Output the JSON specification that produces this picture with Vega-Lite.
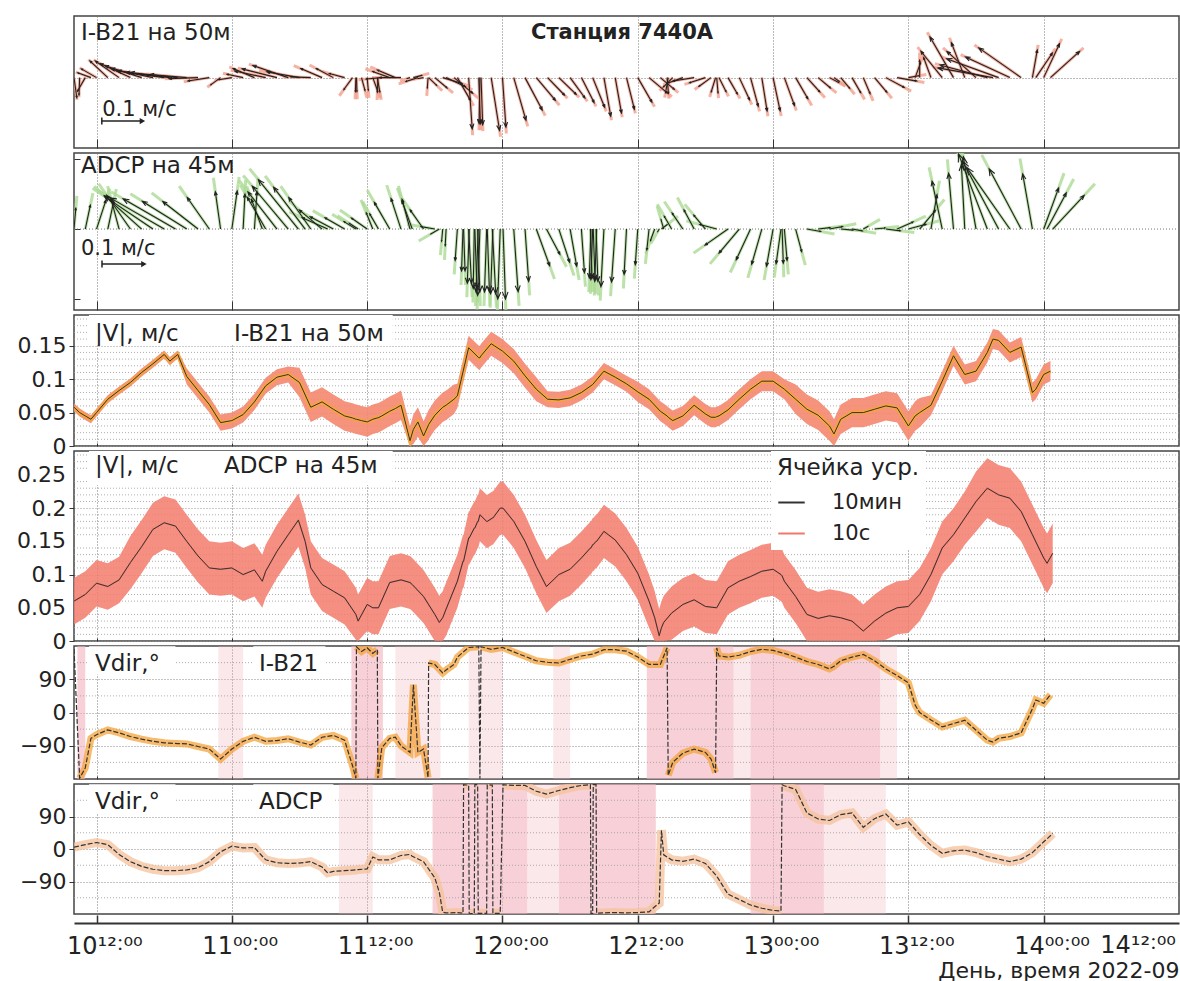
{
"$schema":"https://vega.github.io/schema/vega-lite/v6.json",
"padding":{"left":13,"right":2,"top":15,"bottom":0},
"spacing":5,
"bounds":"flush",
"background":"white",
"config":{"font":"DejaVu Sans","view":{"stroke":"#444","strokeWidth":1.5},"axis":{"labelFont":"DejaVu Sans","titleFont":"DejaVu Sans","labelColor":"#222","titleColor":"#222"}},
"datasets":{
"ib":[
{"t":"2022-09-10T10:00:00Z","s":0.058,"lo":0.052,"hi":0.064,"d":172,"g":0},
{"t":"2022-09-10T10:30:00Z","s":0.050,"lo":0.044,"hi":0.056,"d":-178,"g":1},
{"t":"2022-09-10T11:00:00Z","s":0.045,"lo":0.039,"hi":0.051,"d":-150,"g":1},
{"t":"2022-09-10T11:30:00Z","s":0.040,"lo":0.034,"hi":0.046,"d":-70,"g":1},
{"t":"2022-09-10T12:00:00Z","s":0.050,"lo":0.044,"hi":0.056,"d":-60,"g":1},
{"t":"2022-09-10T13:00:00Z","s":0.070,"lo":0.064,"hi":0.076,"d":-47,"g":1},
{"t":"2022-09-10T14:00:00Z","s":0.083,"lo":0.077,"hi":0.089,"d":-55,"g":1},
{"t":"2022-09-10T15:00:00Z","s":0.095,"lo":0.089,"hi":0.101,"d":-65,"g":1},
{"t":"2022-09-10T16:00:00Z","s":0.110,"lo":0.104,"hi":0.116,"d":-72,"g":1},
{"t":"2022-09-10T17:00:00Z","s":0.123,"lo":0.117,"hi":0.129,"d":-78,"g":1},
{"t":"2022-09-10T18:00:00Z","s":0.137,"lo":0.131,"hi":0.143,"d":-82,"g":1},
{"t":"2022-09-10T18:30:00Z","s":0.127,"lo":0.121,"hi":0.133,"d":-83,"g":1},
{"t":"2022-09-10T19:12:00Z","s":0.137,"lo":0.131,"hi":0.143,"d":-84,"g":1},
{"t":"2022-09-10T20:00:00Z","s":0.104,"lo":0.092,"hi":0.116,"d":-85,"g":1},
{"t":"2022-09-10T21:00:00Z","s":0.083,"lo":0.071,"hi":0.095,"d":-92,"g":1},
{"t":"2022-09-10T22:00:00Z","s":0.062,"lo":0.050,"hi":0.074,"d":-99,"g":1},
{"t":"2022-09-10T23:00:00Z","s":0.035,"lo":0.023,"hi":0.047,"d":-126,"g":1},
{"t":"2022-09-11T00:00:00Z","s":0.038,"lo":0.026,"hi":0.050,"d":-99,"g":1},
{"t":"2022-09-11T01:00:00Z","s":0.047,"lo":0.035,"hi":0.059,"d":-78,"g":1},
{"t":"2022-09-11T02:00:00Z","s":0.066,"lo":0.054,"hi":0.078,"d":-67,"g":1},
{"t":"2022-09-11T03:00:00Z","s":0.090,"lo":0.078,"hi":0.102,"d":-78,"g":1},
{"t":"2022-09-11T04:00:00Z","s":0.103,"lo":0.091,"hi":0.115,"d":-76,"g":1},
{"t":"2022-09-11T05:00:00Z","s":0.107,"lo":0.095,"hi":0.119,"d":-71,"g":1},
{"t":"2022-09-11T06:00:00Z","s":0.095,"lo":0.073,"hi":0.117,"d":-80,"g":1},
{"t":"2022-09-11T07:00:00Z","s":0.058,"lo":0.036,"hi":0.080,"d":-88,"g":1},
{"t":"2022-09-11T08:00:00Z","s":0.066,"lo":0.044,"hi":0.088,"d":-67,"g":1},
{"t":"2022-09-11T09:00:00Z","s":0.055,"lo":0.033,"hi":0.077,"d":-62,"g":1},
{"t":"2022-09-11T10:00:00Z","s":0.045,"lo":0.023,"hi":0.067,"d":-75,"g":1},
{"t":"2022-09-11T10:42:00Z","s":0.042,"lo":0.020,"hi":0.064,"d":-144,"g":1},
{"t":"2022-09-11T11:00:00Z","s":0.040,"lo":0.018,"hi":0.062,"d":-178,"g":1},
{"t":"2022-09-11T11:03:00Z","s":0.040,"lo":0.018,"hi":0.062,"d":178,"g":2},
{"t":"2022-09-11T11:30:00Z","s":0.038,"lo":0.016,"hi":0.060,"d":165,"g":2},
{"t":"2022-09-11T12:00:00Z","s":0.036,"lo":0.014,"hi":0.058,"d":175,"g":2},
{"t":"2022-09-11T12:30:00Z","s":0.040,"lo":0.018,"hi":0.062,"d":160,"g":2},
{"t":"2022-09-11T12:54:00Z","s":0.042,"lo":0.020,"hi":0.064,"d":170,"g":2},
{"t":"2022-09-11T12:57:00Z","s":0.042,"lo":0.020,"hi":0.064,"d":-178,"g":3},
{"t":"2022-09-11T13:18:00Z","s":0.045,"lo":0.023,"hi":0.067,"d":-95,"g":3},
{"t":"2022-09-11T14:00:00Z","s":0.052,"lo":0.030,"hi":0.074,"d":-70,"g":3},
{"t":"2022-09-11T14:30:00Z","s":0.056,"lo":0.034,"hi":0.078,"d":-67,"g":3},
{"t":"2022-09-11T15:00:00Z","s":0.061,"lo":0.039,"hi":0.083,"d":-90,"g":3},
{"t":"2022-09-11T15:48:00Z","s":0.008,"lo":0.000,"hi":0.030,"d":-108,"g":3},
{"t":"2022-09-11T16:06:00Z","s":0.025,"lo":0.003,"hi":0.047,"d":75,"g":3},
{"t":"2022-09-11T16:30:00Z","s":0.036,"lo":0.014,"hi":0.058,"d":-108,"g":3},
{"t":"2022-09-11T17:00:00Z","s":0.015,"lo":0.000,"hi":0.037,"d":-99,"g":3},
{"t":"2022-09-11T17:24:00Z","s":0.030,"lo":0.008,"hi":0.052,"d":-176,"g":3},
{"t":"2022-09-11T17:27:00Z","s":0.032,"lo":0.010,"hi":0.054,"d":134,"g":4},
{"t":"2022-09-11T18:00:00Z","s":0.046,"lo":0.024,"hi":0.068,"d":130,"g":4},
{"t":"2022-09-11T18:42:00Z","s":0.058,"lo":0.036,"hi":0.080,"d":107,"g":4},
{"t":"2022-09-11T19:00:00Z","s":0.061,"lo":0.039,"hi":0.083,"d":115,"g":4},
{"t":"2022-09-11T19:42:00Z","s":0.070,"lo":0.048,"hi":0.092,"d":130,"g":4},
{"t":"2022-09-11T20:00:00Z","s":0.075,"lo":0.057,"hi":0.093,"d":150,"g":4},
{"t":"2022-09-11T21:00:00Z","s":0.147,"lo":0.129,"hi":0.165,"d":176,"g":4},
{"t":"2022-09-11T21:54:00Z","s":0.132,"lo":0.114,"hi":0.150,"d":178,"g":4},
{"t":"2022-09-11T22:00:00Z","s":0.132,"lo":0.114,"hi":0.150,"d":-179,"g":5},
{"t":"2022-09-11T22:06:00Z","s":0.135,"lo":0.117,"hi":0.153,"d":178,"g":6},
{"t":"2022-09-11T23:00:00Z","s":0.153,"lo":0.135,"hi":0.171,"d":171,"g":6},
{"t":"2022-09-12T00:00:00Z","s":0.142,"lo":0.124,"hi":0.160,"d":176,"g":6},
{"t":"2022-09-12T01:00:00Z","s":0.127,"lo":0.109,"hi":0.145,"d":164,"g":6},
{"t":"2022-09-12T02:00:00Z","s":0.105,"lo":0.087,"hi":0.123,"d":152,"g":6},
{"t":"2022-09-12T03:00:00Z","s":0.085,"lo":0.067,"hi":0.103,"d":140,"g":6},
{"t":"2022-09-12T04:00:00Z","s":0.070,"lo":0.058,"hi":0.082,"d":136,"g":6},
{"t":"2022-09-12T05:00:00Z","s":0.069,"lo":0.057,"hi":0.081,"d":134,"g":6},
{"t":"2022-09-12T06:00:00Z","s":0.072,"lo":0.060,"hi":0.084,"d":144,"g":6},
{"t":"2022-09-12T07:00:00Z","s":0.080,"lo":0.068,"hi":0.092,"d":153,"g":6},
{"t":"2022-09-12T08:00:00Z","s":0.092,"lo":0.080,"hi":0.104,"d":158,"g":6},
{"t":"2022-09-12T09:00:00Z","s":0.112,"lo":0.100,"hi":0.124,"d":170,"g":6},
{"t":"2022-09-12T10:00:00Z","s":0.103,"lo":0.091,"hi":0.115,"d":170,"g":6},
{"t":"2022-09-12T11:00:00Z","s":0.093,"lo":0.081,"hi":0.105,"d":166,"g":6},
{"t":"2022-09-12T12:00:00Z","s":0.081,"lo":0.066,"hi":0.096,"d":150,"g":6},
{"t":"2022-09-12T13:00:00Z","s":0.070,"lo":0.055,"hi":0.085,"d":130,"g":6},
{"t":"2022-09-12T14:00:00Z","s":0.052,"lo":0.037,"hi":0.067,"d":130,"g":6},
{"t":"2022-09-12T14:36:00Z","s":0.045,"lo":0.030,"hi":0.060,"d":175,"g":6},
{"t":"2022-09-12T14:42:00Z","s":0.043,"lo":0.028,"hi":0.058,"d":-170,"g":7},
{"t":"2022-09-12T15:06:00Z","s":0.038,"lo":0.023,"hi":0.053,"d":-135,"g":7},
{"t":"2022-09-12T16:00:00Z","s":0.045,"lo":0.030,"hi":0.060,"d":-110,"g":7},
{"t":"2022-09-12T17:00:00Z","s":0.061,"lo":0.046,"hi":0.076,"d":-99,"g":7},
{"t":"2022-09-12T18:00:00Z","s":0.048,"lo":0.033,"hi":0.063,"d":-108,"g":7},
{"t":"2022-09-12T18:30:00Z","s":0.043,"lo":0.028,"hi":0.058,"d":-126,"g":7},
{"t":"2022-09-12T18:54:00Z","s":0.043,"lo":0.028,"hi":0.058,"d":-163,"g":7},
{"t":"2022-09-12T19:00:00Z","s":0.044,"lo":0.029,"hi":0.059,"d":175,"g":8},
{"t":"2022-09-12T19:12:00Z","s":0.045,"lo":0.030,"hi":0.060,"d":153,"g":8},
{"t":"2022-09-12T20:00:00Z","s":0.054,"lo":0.039,"hi":0.069,"d":150,"g":8},
{"t":"2022-09-12T21:00:00Z","s":0.070,"lo":0.055,"hi":0.085,"d":155,"g":8},
{"t":"2022-09-12T22:00:00Z","s":0.085,"lo":0.070,"hi":0.100,"d":165,"g":8},
{"t":"2022-09-12T23:00:00Z","s":0.097,"lo":0.082,"hi":0.112,"d":171,"g":8},
{"t":"2022-09-13T00:00:00Z","s":0.097,"lo":0.082,"hi":0.112,"d":168,"g":8},
{"t":"2022-09-13T01:00:00Z","s":0.085,"lo":0.070,"hi":0.100,"d":160,"g":8},
{"t":"2022-09-13T02:00:00Z","s":0.070,"lo":0.048,"hi":0.092,"d":150,"g":8},
{"t":"2022-09-13T03:00:00Z","s":0.055,"lo":0.033,"hi":0.077,"d":138,"g":8},
{"t":"2022-09-13T04:00:00Z","s":0.046,"lo":0.024,"hi":0.068,"d":130,"g":8},
{"t":"2022-09-13T05:00:00Z","s":0.030,"lo":0.008,"hi":0.052,"d":118,"g":8},
{"t":"2022-09-13T05:24:00Z","s":0.018,"lo":0.000,"hi":0.040,"d":125,"g":8},
{"t":"2022-09-13T06:00:00Z","s":0.040,"lo":0.018,"hi":0.062,"d":140,"g":8},
{"t":"2022-09-13T07:00:00Z","s":0.050,"lo":0.028,"hi":0.072,"d":150,"g":8},
{"t":"2022-09-13T08:00:00Z","s":0.050,"lo":0.028,"hi":0.072,"d":157,"g":8},
{"t":"2022-09-13T09:00:00Z","s":0.055,"lo":0.033,"hi":0.077,"d":140,"g":8},
{"t":"2022-09-13T10:00:00Z","s":0.060,"lo":0.038,"hi":0.082,"d":118,"g":8},
{"t":"2022-09-13T11:00:00Z","s":0.057,"lo":0.035,"hi":0.079,"d":100,"g":8},
{"t":"2022-09-13T12:00:00Z","s":0.030,"lo":0.008,"hi":0.052,"d":80,"g":8},
{"t":"2022-09-13T12:36:00Z","s":0.045,"lo":0.023,"hi":0.067,"d":20,"g":8},
{"t":"2022-09-13T13:00:00Z","s":0.050,"lo":0.028,"hi":0.072,"d":0,"g":8},
{"t":"2022-09-13T14:00:00Z","s":0.061,"lo":0.046,"hi":0.076,"d":-20,"g":8},
{"t":"2022-09-13T15:00:00Z","s":0.097,"lo":0.082,"hi":0.112,"d":-39,"g":8},
{"t":"2022-09-13T16:00:00Z","s":0.135,"lo":0.120,"hi":0.150,"d":-30,"g":8},
{"t":"2022-09-13T17:00:00Z","s":0.107,"lo":0.092,"hi":0.122,"d":-21,"g":8},
{"t":"2022-09-13T18:00:00Z","s":0.112,"lo":0.097,"hi":0.127,"d":-48,"g":8},
{"t":"2022-09-13T19:00:00Z","s":0.140,"lo":0.125,"hi":0.155,"d":-75,"g":8},
{"t":"2022-09-13T19:30:00Z","s":0.160,"lo":0.145,"hi":0.175,"d":-80,"g":8},
{"t":"2022-09-13T20:00:00Z","s":0.158,"lo":0.143,"hi":0.173,"d":-70,"g":8},
{"t":"2022-09-13T21:00:00Z","s":0.140,"lo":0.125,"hi":0.155,"d":-65,"g":8},
{"t":"2022-09-13T22:00:00Z","s":0.148,"lo":0.133,"hi":0.163,"d":-55,"g":8},
{"t":"2022-09-13T23:00:00Z","s":0.080,"lo":0.065,"hi":0.095,"d":10,"g":8},
{"t":"2022-09-13T23:18:00Z","s":0.085,"lo":0.070,"hi":0.100,"d":34,"g":8},
{"t":"2022-09-14T00:00:00Z","s":0.107,"lo":0.092,"hi":0.122,"d":25,"g":8},
{"t":"2022-09-14T00:36:00Z","s":0.112,"lo":0.097,"hi":0.127,"d":48,"g":8}
],
"ad":[
{"t":"2022-09-10T10:00:00Z","s":0.060,"lo":0.025,"hi":0.095,"d":5,"g":0},
{"t":"2022-09-10T11:00:00Z","s":0.070,"lo":0.035,"hi":0.105,"d":12,"g":0},
{"t":"2022-09-10T12:00:00Z","s":0.087,"lo":0.052,"hi":0.122,"d":18,"g":0},
{"t":"2022-09-10T13:00:00Z","s":0.082,"lo":0.047,"hi":0.117,"d":12,"g":0},
{"t":"2022-09-10T14:00:00Z","s":0.092,"lo":0.057,"hi":0.127,"d":-15,"g":0},
{"t":"2022-09-10T15:00:00Z","s":0.118,"lo":0.078,"hi":0.158,"d":-35,"g":0},
{"t":"2022-09-10T16:00:00Z","s":0.142,"lo":0.102,"hi":0.182,"d":-48,"g":0},
{"t":"2022-09-10T17:00:00Z","s":0.168,"lo":0.128,"hi":0.208,"d":-56,"g":0},
{"t":"2022-09-10T18:00:00Z","s":0.178,"lo":0.138,"hi":0.218,"d":-60,"g":0},
{"t":"2022-09-10T19:00:00Z","s":0.173,"lo":0.133,"hi":0.213,"d":-60,"g":0},
{"t":"2022-09-10T20:00:00Z","s":0.150,"lo":0.110,"hi":0.190,"d":-58,"g":0},
{"t":"2022-09-10T21:00:00Z","s":0.128,"lo":0.088,"hi":0.168,"d":-52,"g":0},
{"t":"2022-09-10T22:00:00Z","s":0.110,"lo":0.070,"hi":0.150,"d":-35,"g":0},
{"t":"2022-09-10T23:00:00Z","s":0.108,"lo":0.068,"hi":0.148,"d":-8,"g":0},
{"t":"2022-09-11T00:00:00Z","s":0.110,"lo":0.070,"hi":0.150,"d":8,"g":0},
{"t":"2022-09-11T01:00:00Z","s":0.100,"lo":0.060,"hi":0.140,"d":3,"g":0},
{"t":"2022-09-11T02:00:00Z","s":0.107,"lo":0.067,"hi":0.147,"d":4,"g":0},
{"t":"2022-09-11T02:42:00Z","s":0.090,"lo":0.050,"hi":0.130,"d":-20,"g":0},
{"t":"2022-09-11T03:00:00Z","s":0.105,"lo":0.065,"hi":0.145,"d":-30,"g":0},
{"t":"2022-09-11T04:00:00Z","s":0.135,"lo":0.095,"hi":0.175,"d":-38,"g":0},
{"t":"2022-09-11T05:00:00Z","s":0.160,"lo":0.120,"hi":0.200,"d":-40,"g":0},
{"t":"2022-09-11T05:54:00Z","s":0.182,"lo":0.142,"hi":0.222,"d":-39,"g":0},
{"t":"2022-09-11T06:30:00Z","s":0.150,"lo":0.110,"hi":0.190,"d":-37,"g":0},
{"t":"2022-09-11T07:00:00Z","s":0.110,"lo":0.070,"hi":0.150,"d":-35,"g":0},
{"t":"2022-09-11T08:00:00Z","s":0.085,"lo":0.045,"hi":0.125,"d":-50,"g":0},
{"t":"2022-09-11T08:30:00Z","s":0.080,"lo":0.040,"hi":0.120,"d":-66,"g":0},
{"t":"2022-09-11T09:00:00Z","s":0.075,"lo":0.035,"hi":0.115,"d":-62,"g":0},
{"t":"2022-09-11T10:00:00Z","s":0.065,"lo":0.025,"hi":0.105,"d":-60,"g":0},
{"t":"2022-09-11T11:00:00Z","s":0.040,"lo":0.002,"hi":0.080,"d":-58,"g":0},
{"t":"2022-09-11T11:12:00Z","s":0.030,"lo":0.000,"hi":0.070,"d":-57,"g":0},
{"t":"2022-09-11T12:00:00Z","s":0.055,"lo":0.015,"hi":0.095,"d":-55,"g":0},
{"t":"2022-09-11T12:30:00Z","s":0.050,"lo":0.010,"hi":0.090,"d":-22,"g":0},
{"t":"2022-09-11T13:00:00Z","s":0.050,"lo":0.010,"hi":0.090,"d":-30,"g":0},
{"t":"2022-09-11T14:00:00Z","s":0.088,"lo":0.048,"hi":0.128,"d":-30,"g":0},
{"t":"2022-09-11T15:00:00Z","s":0.092,"lo":0.052,"hi":0.132,"d":-18,"g":0},
{"t":"2022-09-11T15:48:00Z","s":0.088,"lo":0.048,"hi":0.128,"d":-15,"g":0},
{"t":"2022-09-11T16:00:00Z","s":0.085,"lo":0.045,"hi":0.125,"d":-20,"g":0},
{"t":"2022-09-11T17:00:00Z","s":0.067,"lo":0.027,"hi":0.107,"d":-35,"g":0},
{"t":"2022-09-11T18:00:00Z","s":0.040,"lo":0.000,"hi":0.080,"d":-80,"g":0},
{"t":"2022-09-11T18:24:00Z","s":0.028,"lo":0.000,"hi":0.068,"d":-120,"g":0},
{"t":"2022-09-11T18:42:00Z","s":0.035,"lo":0.000,"hi":0.075,"d":-175,"g":0},
{"t":"2022-09-11T19:00:00Z","s":0.048,"lo":0.008,"hi":0.088,"d":-177,"g":0},
{"t":"2022-09-11T20:00:00Z","s":0.090,"lo":0.050,"hi":0.130,"d":-176,"g":0},
{"t":"2022-09-11T20:30:00Z","s":0.120,"lo":0.080,"hi":0.160,"d":-178,"g":0},
{"t":"2022-09-11T20:33:00Z","s":0.120,"lo":0.080,"hi":0.160,"d":178,"g":1},
{"t":"2022-09-11T21:00:00Z","s":0.155,"lo":0.115,"hi":0.195,"d":177,"g":1},
{"t":"2022-09-11T21:03:00Z","s":0.155,"lo":0.115,"hi":0.195,"d":-178,"g":2},
{"t":"2022-09-11T21:30:00Z","s":0.170,"lo":0.130,"hi":0.210,"d":-179,"g":2},
{"t":"2022-09-11T21:33:00Z","s":0.170,"lo":0.130,"hi":0.210,"d":178,"g":3},
{"t":"2022-09-11T21:48:00Z","s":0.180,"lo":0.140,"hi":0.220,"d":178,"g":3},
{"t":"2022-09-11T21:51:00Z","s":0.180,"lo":0.140,"hi":0.220,"d":-178,"g":4},
{"t":"2022-09-11T22:00:00Z","s":0.190,"lo":0.150,"hi":0.230,"d":-178,"g":4},
{"t":"2022-09-11T22:36:00Z","s":0.180,"lo":0.140,"hi":0.220,"d":-178,"g":4},
{"t":"2022-09-11T22:39:00Z","s":0.180,"lo":0.140,"hi":0.220,"d":178,"g":5},
{"t":"2022-09-11T23:06:00Z","s":0.185,"lo":0.145,"hi":0.225,"d":177,"g":5},
{"t":"2022-09-11T23:09:00Z","s":0.185,"lo":0.145,"hi":0.225,"d":-178,"g":6},
{"t":"2022-09-11T23:48:00Z","s":0.200,"lo":0.160,"hi":0.240,"d":-178,"g":6},
{"t":"2022-09-12T00:03:00Z","s":0.200,"lo":0.160,"hi":0.240,"d":178,"g":7},
{"t":"2022-09-12T01:00:00Z","s":0.180,"lo":0.140,"hi":0.220,"d":176,"g":7},
{"t":"2022-09-12T02:00:00Z","s":0.150,"lo":0.110,"hi":0.190,"d":176,"g":7},
{"t":"2022-09-12T03:00:00Z","s":0.112,"lo":0.072,"hi":0.152,"d":160,"g":7},
{"t":"2022-09-12T03:54:00Z","s":0.082,"lo":0.042,"hi":0.122,"d":152,"g":7},
{"t":"2022-09-12T05:00:00Z","s":0.100,"lo":0.060,"hi":0.140,"d":162,"g":7},
{"t":"2022-09-12T06:00:00Z","s":0.108,"lo":0.068,"hi":0.148,"d":170,"g":7},
{"t":"2022-09-12T07:00:00Z","s":0.125,"lo":0.085,"hi":0.165,"d":176,"g":7},
{"t":"2022-09-12T07:48:00Z","s":0.140,"lo":0.100,"hi":0.180,"d":178,"g":7},
{"t":"2022-09-12T07:51:00Z","s":0.140,"lo":0.100,"hi":0.180,"d":-178,"g":8},
{"t":"2022-09-12T08:00:00Z","s":0.145,"lo":0.105,"hi":0.185,"d":-178,"g":8},
{"t":"2022-09-12T08:03:00Z","s":0.145,"lo":0.105,"hi":0.185,"d":178,"g":9},
{"t":"2022-09-12T08:18:00Z","s":0.150,"lo":0.110,"hi":0.190,"d":178,"g":9},
{"t":"2022-09-12T08:21:00Z","s":0.150,"lo":0.110,"hi":0.190,"d":-178,"g":10},
{"t":"2022-09-12T09:00:00Z","s":0.165,"lo":0.125,"hi":0.205,"d":-177,"g":10},
{"t":"2022-09-12T10:00:00Z","s":0.152,"lo":0.112,"hi":0.192,"d":-176,"g":10},
{"t":"2022-09-12T11:00:00Z","s":0.130,"lo":0.090,"hi":0.170,"d":-177,"g":10},
{"t":"2022-09-12T12:00:00Z","s":0.102,"lo":0.062,"hi":0.142,"d":-176,"g":10},
{"t":"2022-09-12T13:00:00Z","s":0.060,"lo":0.020,"hi":0.100,"d":-174,"g":10},
{"t":"2022-09-12T13:30:00Z","s":0.035,"lo":0.000,"hi":0.075,"d":-160,"g":10},
{"t":"2022-09-12T13:54:00Z","s":0.008,"lo":0.000,"hi":0.048,"d":-150,"g":10},
{"t":"2022-09-12T14:06:00Z","s":0.020,"lo":0.000,"hi":0.060,"d":52,"g":10},
{"t":"2022-09-12T14:18:00Z","s":0.028,"lo":0.000,"hi":0.068,"d":-16,"g":10},
{"t":"2022-09-12T15:00:00Z","s":0.042,"lo":0.002,"hi":0.082,"d":-30,"g":10},
{"t":"2022-09-12T16:00:00Z","s":0.055,"lo":0.015,"hi":0.095,"d":-34,"g":10},
{"t":"2022-09-12T17:00:00Z","s":0.062,"lo":0.022,"hi":0.102,"d":-28,"g":10},
{"t":"2022-09-12T18:00:00Z","s":0.052,"lo":0.012,"hi":0.092,"d":-40,"g":10},
{"t":"2022-09-12T19:00:00Z","s":0.050,"lo":0.010,"hi":0.090,"d":-75,"g":10},
{"t":"2022-09-12T20:00:00Z","s":0.080,"lo":0.040,"hi":0.120,"d":-125,"g":10},
{"t":"2022-09-12T21:00:00Z","s":0.090,"lo":0.050,"hi":0.130,"d":-140,"g":10},
{"t":"2022-09-12T22:00:00Z","s":0.097,"lo":0.057,"hi":0.137,"d":-155,"g":10},
{"t":"2022-09-12T23:00:00Z","s":0.105,"lo":0.065,"hi":0.145,"d":-164,"g":10},
{"t":"2022-09-13T00:00:00Z","s":0.108,"lo":0.068,"hi":0.148,"d":-170,"g":10},
{"t":"2022-09-13T00:42:00Z","s":0.100,"lo":0.060,"hi":0.140,"d":-172,"g":10},
{"t":"2022-09-13T00:48:00Z","s":0.098,"lo":0.058,"hi":0.138,"d":178,"g":11},
{"t":"2022-09-13T01:00:00Z","s":0.090,"lo":0.050,"hi":0.130,"d":175,"g":11},
{"t":"2022-09-13T02:00:00Z","s":0.067,"lo":0.027,"hi":0.107,"d":165,"g":11},
{"t":"2022-09-13T03:00:00Z","s":0.040,"lo":0.000,"hi":0.080,"d":100,"g":11},
{"t":"2022-09-13T04:00:00Z","s":0.034,"lo":0.000,"hi":0.074,"d":83,"g":11},
{"t":"2022-09-13T05:00:00Z","s":0.038,"lo":0.000,"hi":0.078,"d":79,"g":11},
{"t":"2022-09-13T06:00:00Z","s":0.035,"lo":0.000,"hi":0.075,"d":95,"g":11},
{"t":"2022-09-13T07:00:00Z","s":0.030,"lo":0.000,"hi":0.070,"d":100,"g":11},
{"t":"2022-09-13T08:00:00Z","s":0.015,"lo":0.000,"hi":0.055,"d":60,"g":11},
{"t":"2022-09-13T09:00:00Z","s":0.030,"lo":0.000,"hi":0.070,"d":84,"g":11},
{"t":"2022-09-13T10:00:00Z","s":0.042,"lo":0.002,"hi":0.082,"d":97,"g":11},
{"t":"2022-09-13T11:00:00Z","s":0.050,"lo":0.010,"hi":0.090,"d":66,"g":11},
{"t":"2022-09-13T12:00:00Z","s":0.052,"lo":0.012,"hi":0.092,"d":75,"g":11},
{"t":"2022-09-13T13:00:00Z","s":0.070,"lo":0.030,"hi":0.110,"d":40,"g":11},
{"t":"2022-09-13T14:00:00Z","s":0.100,"lo":0.060,"hi":0.140,"d":10,"g":11},
{"t":"2022-09-13T15:00:00Z","s":0.140,"lo":0.100,"hi":0.180,"d":-12,"g":11},
{"t":"2022-09-13T16:00:00Z","s":0.160,"lo":0.120,"hi":0.200,"d":-5,"g":11},
{"t":"2022-09-13T17:00:00Z","s":0.185,"lo":0.145,"hi":0.225,"d":-3,"g":11},
{"t":"2022-09-13T18:00:00Z","s":0.210,"lo":0.165,"hi":0.255,"d":-10,"g":11},
{"t":"2022-09-13T19:00:00Z","s":0.230,"lo":0.185,"hi":0.275,"d":-21,"g":11},
{"t":"2022-09-13T20:00:00Z","s":0.220,"lo":0.175,"hi":0.265,"d":-28,"g":11},
{"t":"2022-09-13T21:00:00Z","s":0.215,"lo":0.170,"hi":0.260,"d":-35,"g":11},
{"t":"2022-09-13T22:00:00Z","s":0.195,"lo":0.150,"hi":0.240,"d":-28,"g":11},
{"t":"2022-09-13T23:00:00Z","s":0.160,"lo":0.115,"hi":0.205,"d":-10,"g":11},
{"t":"2022-09-14T00:00:00Z","s":0.125,"lo":0.080,"hi":0.170,"d":20,"g":11},
{"t":"2022-09-14T00:18:00Z","s":0.117,"lo":0.072,"hi":0.162,"d":28,"g":11},
{"t":"2022-09-14T00:48:00Z","s":0.132,"lo":0.087,"hi":0.177,"d":43,"g":11}
],
"ibs":[
{"a":"2022-09-10T10:18:00Z","b":"2022-09-10T11:00:00Z","k":"s"},
{"a":"2022-09-10T22:48:00Z","b":"2022-09-11T01:00:00Z","k":"w"},
{"a":"2022-09-11T10:36:00Z","b":"2022-09-11T13:24:00Z","k":"s"},
{"a":"2022-09-11T14:30:00Z","b":"2022-09-11T18:30:00Z","k":"w"},
{"a":"2022-09-11T21:00:00Z","b":"2022-09-12T00:00:00Z","k":"w"},
{"a":"2022-09-12T04:30:00Z","b":"2022-09-12T06:00:00Z","k":"w"},
{"a":"2022-09-12T12:48:00Z","b":"2022-09-12T20:30:00Z","k":"s"},
{"a":"2022-09-12T20:30:00Z","b":"2022-09-12T22:00:00Z","k":"w"},
{"a":"2022-09-12T22:00:00Z","b":"2022-09-13T09:30:00Z","k":"s"},
{"a":"2022-09-13T09:30:00Z","b":"2022-09-13T11:00:00Z","k":"w"}
],
"ads":[
{"a":"2022-09-11T09:30:00Z","b":"2022-09-11T12:30:00Z","k":"w"},
{"a":"2022-09-11T17:48:00Z","b":"2022-09-12T02:12:00Z","k":"s"},
{"a":"2022-09-12T02:12:00Z","b":"2022-09-12T05:00:00Z","k":"w"},
{"a":"2022-09-12T05:00:00Z","b":"2022-09-12T13:36:00Z","k":"s"},
{"a":"2022-09-12T22:00:00Z","b":"2022-09-13T04:30:00Z","k":"s"},
{"a":"2022-09-13T04:30:00Z","b":"2022-09-13T10:00:00Z","k":"w"}
],
"gl":[{"v":0.01},{"v":0.02},{"v":0.03},{"v":0.04},{"v":0.06},{"v":0.07},{"v":0.08},{"v":0.09},{"v":0.11},{"v":0.12},{"v":0.13},{"v":0.14},{"v":0.16},{"v":0.17},{"v":0.18},{"v":0.19},{"v":0.21},{"v":0.22},{"v":0.23},{"v":0.24},{"v":0.26},{"v":0.27},{"v":0.28}],
"ga":[{"v":-135},{"v":-45},{"v":45},{"v":135}]
},
"resolve":{"scale":{"x":"independent","y":"independent","size":"independent","color":"independent"}},
"vconcat":[
{
"width":1105,"height":132,
"layer":[
{"data":{"name":"ib"},"mark":{"type":"point","shape":"M0,0L0,-2","filled":false,"stroke":"#f4a08c","strokeWidth":3,"opacity":0.8,"clip":true},
"encoding":{
"x":{"field":"t","type":"temporal","scale":{"type":"utc","domain":[{"year":2022,"month":9,"date":10,"hours":10,"utc":true},{"year":2022,"month":9,"date":14,"hours":12,"utc":true}],"nice":false},
"axis":{"title":null,"labels":false,"domain":false,"values":[{"year":2022,"month":9,"date":10,"hours":12,"utc":true},{"year":2022,"month":9,"date":11,"hours":0,"utc":true},{"year":2022,"month":9,"date":11,"hours":12,"utc":true},{"year":2022,"month":9,"date":12,"hours":0,"utc":true},{"year":2022,"month":9,"date":12,"hours":12,"utc":true},{"year":2022,"month":9,"date":13,"hours":0,"utc":true},{"year":2022,"month":9,"date":13,"hours":12,"utc":true},{"year":2022,"month":9,"date":14,"hours":0,"utc":true}],"tickColor":"#333","tickSize":-9,"grid":true,"gridColor":"#777","gridDash":[1,2]}},
"y":{"datum":0,"type":"quantitative","scale":{"domain":[-0.201,0.176],"nice":false,"zero":false},"axis":{"title":null,"labels":false,"ticks":false,"domain":false,"values":[0],"grid":true,"gridColor":"#777","gridDash":[1,2],"minExtent":60,"maxExtent":60}},
"size":{"field":"hi","type":"quantitative","scale":{"type":"pow","exponent":2,"domain":[0,0.1],"range":[0,1225]},"legend":null},
"angle":{"field":"d","type":"quantitative","scale":null}}},
{"data":{"name":"ib"},"mark":{"type":"point","shape":"M0,0L0,-2M-0.08,-1.8L0,-2L0.08,-1.8","filled":false,"stroke":"#222","strokeWidth":1.1,"opacity":1,"clip":true},
"encoding":{
"x":{"field":"t","type":"temporal"},
"y":{"datum":0,"type":"quantitative"},
"size":{"field":"s","type":"quantitative","legend":null},
"angle":{"field":"d","type":"quantitative","scale":null}}},
{"data":{"values":[{"x":"2022-09-10T10:37:00Z"}]},"mark":{"type":"text","text":"I-B21 на 50м","align":"left","baseline":"middle","fontSize":23,"color":"#222"},
"encoding":{"x":{"field":"x","type":"temporal"},"y":{"datum":0.127,"type":"quantitative"}}},
{"data":{"values":[{"x":"2022-09-12T10:36:00Z"}]},"mark":{"type":"text","text":"Станция 7440А","align":"center","baseline":"middle","fontSize":21,"fontWeight":"bold","color":"#222"},
"encoding":{"x":{"field":"x","type":"temporal"},"y":{"datum":0.127,"type":"quantitative"}}},
{"data":{"values":[{"x":"2022-09-10T12:30:00Z"}]},"mark":{"type":"text","text":"0.1 м/с","align":"left","baseline":"middle","fontSize":21,"color":"#222"},
"encoding":{"x":{"field":"x","type":"temporal"},"y":{"datum":-0.093,"type":"quantitative"}}},
{"data":{"values":[{"x":"2022-09-10T12:28:00Z","x2":"2022-09-10T16:04:00Z"}]},"mark":{"type":"rule","color":"#222","strokeWidth":1.5},
"encoding":{"x":{"field":"x","type":"temporal"},"x2":{"field":"x2"},"y":{"datum":-0.124,"type":"quantitative"}}},
{"data":{"values":[{"x":"2022-09-10T12:28:00Z"}]},"mark":{"type":"rule","color":"#222","strokeWidth":1.5},
"encoding":{"x":{"field":"x","type":"temporal"},"y":{"datum":-0.114,"type":"quantitative"},"y2":{"datum":-0.134}}},
{"data":{"values":[{"x":"2022-09-10T16:04:00Z"}]},"mark":{"type":"point","shape":"triangle-right","filled":true,"color":"#222","size":40,"opacity":1},
"encoding":{"x":{"field":"x","type":"temporal"},"y":{"datum":-0.124,"type":"quantitative"}}}
]},
{
"width":1105,"height":157,
"layer":[
{"data":{"values":[{}]},"mark":{"type":"rule","color":"#777","strokeDash":[1,2],"strokeWidth":1},
"encoding":{"y":{"datum":0,"type":"quantitative","scale":{"domain":[-0.231,0.217],"nice":false,"zero":false},"axis":{"title":null,"labels":false,"domain":false,"values":[-0.2,-0.1,0,0.1,0.2],"tickSize":-6,"tickColor":"#333","grid":false,"minExtent":60,"maxExtent":60}}}},
{"data":{"name":"ad"},"mark":{"type":"point","shape":"M0,0L0,-2","filled":false,"stroke":"#acdc95","strokeWidth":3,"opacity":0.8,"clip":true},
"encoding":{
"x":{"field":"t","type":"temporal","scale":{"type":"utc","domain":[{"year":2022,"month":9,"date":10,"hours":10,"utc":true},{"year":2022,"month":9,"date":14,"hours":12,"utc":true}],"nice":false},
"axis":{"title":null,"labels":false,"domain":false,"values":[{"year":2022,"month":9,"date":10,"hours":12,"utc":true},{"year":2022,"month":9,"date":11,"hours":0,"utc":true},{"year":2022,"month":9,"date":11,"hours":12,"utc":true},{"year":2022,"month":9,"date":12,"hours":0,"utc":true},{"year":2022,"month":9,"date":12,"hours":12,"utc":true},{"year":2022,"month":9,"date":13,"hours":0,"utc":true},{"year":2022,"month":9,"date":13,"hours":12,"utc":true},{"year":2022,"month":9,"date":14,"hours":0,"utc":true}],"tickColor":"#333","tickSize":-9,"grid":true,"gridColor":"#777","gridDash":[1,2]}},
"y":{"datum":0,"type":"quantitative"},
"size":{"field":"hi","type":"quantitative","scale":{"type":"pow","exponent":2,"domain":[0,0.1],"range":[0,1225]},"legend":null},
"angle":{"field":"d","type":"quantitative","scale":null}}},
{"data":{"name":"ad"},"mark":{"type":"point","shape":"M0,0L0,-2M-0.08,-1.8L0,-2L0.08,-1.8","filled":false,"stroke":"#222","strokeWidth":1.1,"opacity":1,"clip":true},
"encoding":{
"x":{"field":"t","type":"temporal"},
"y":{"datum":0,"type":"quantitative"},
"size":{"field":"s","type":"quantitative","legend":null},
"angle":{"field":"d","type":"quantitative","scale":null}}},
{"data":{"values":[{"x":"2022-09-10T10:37:00Z"}]},"mark":{"type":"text","text":"ADCP на 45м","align":"left","baseline":"middle","fontSize":23,"color":"#222"},
"encoding":{"x":{"field":"x","type":"temporal"},"y":{"datum":0.18,"type":"quantitative"}}},
{"data":{"values":[{"x":"2022-09-10T10:37:00Z"}]},"mark":{"type":"text","text":"0.1 м/с","align":"left","baseline":"middle","fontSize":21,"color":"#222"},
"encoding":{"x":{"field":"x","type":"temporal"},"y":{"datum":-0.057,"type":"quantitative"}}},
{"data":{"values":[{"x":"2022-09-10T12:29:00Z","x2":"2022-09-10T16:12:00Z"}]},"mark":{"type":"rule","color":"#222","strokeWidth":1.5},
"encoding":{"x":{"field":"x","type":"temporal"},"x2":{"field":"x2"},"y":{"datum":-0.1,"type":"quantitative"}}},
{"data":{"values":[{"x":"2022-09-10T12:29:00Z"}]},"mark":{"type":"rule","color":"#222","strokeWidth":1.5},
"encoding":{"x":{"field":"x","type":"temporal"},"y":{"datum":-0.09,"type":"quantitative"},"y2":{"datum":-0.11}}},
{"data":{"values":[{"x":"2022-09-10T16:12:00Z"}]},"mark":{"type":"point","shape":"triangle-right","filled":true,"color":"#222","size":40,"opacity":1},
"encoding":{"x":{"field":"x","type":"temporal"},"y":{"datum":-0.1,"type":"quantitative"}}}
]},
{
"width":1105,"height":131,
"layer":[
{"data":{"name":"gl"},"mark":{"type":"rule","color":"#999","strokeDash":[1,2],"strokeWidth":0.8,"clip":true},
"encoding":{"y":{"field":"v","type":"quantitative","scale":{"domain":[0,0.196],"nice":false,"zero":false},
"axis":{"title":null,"domain":false,"values":[0,0.05,0.1,0.15],"format":"~g","labelFontSize":22,"labelPadding":3,"labelOverlap":false,"labelSeparation":-20,"tickColor":"#333","tickSize":5,"grid":true,"gridColor":"#999","gridDash":[1,2],"minExtent":60,"maxExtent":60}}}},
{"data":{"name":"ib"},"mark":{"type":"area","color":"#f4876f","opacity":0.9,"clip":true},
"encoding":{
"x":{"field":"t","type":"temporal","scale":{"type":"utc","domain":[{"year":2022,"month":9,"date":10,"hours":10,"utc":true},{"year":2022,"month":9,"date":14,"hours":12,"utc":true}],"nice":false},
"axis":{"title":null,"labels":false,"domain":false,"values":[{"year":2022,"month":9,"date":10,"hours":12,"utc":true},{"year":2022,"month":9,"date":11,"hours":0,"utc":true},{"year":2022,"month":9,"date":11,"hours":12,"utc":true},{"year":2022,"month":9,"date":12,"hours":0,"utc":true},{"year":2022,"month":9,"date":12,"hours":12,"utc":true},{"year":2022,"month":9,"date":13,"hours":0,"utc":true},{"year":2022,"month":9,"date":13,"hours":12,"utc":true},{"year":2022,"month":9,"date":14,"hours":0,"utc":true}],"tickColor":"#333","tickSize":-3,"grid":true,"gridColor":"#777","gridDash":[1,2]}},
"y":{"field":"lo","type":"quantitative"},
"y2":{"field":"hi"}}},
{"data":{"name":"ib"},"mark":{"type":"line","color":"#f7a43c","strokeWidth":4,"clip":true},
"encoding":{"x":{"field":"t","type":"temporal"},"y":{"field":"s","type":"quantitative"}}},
{"data":{"name":"ib"},"mark":{"type":"line","color":"#333","strokeWidth":1,"clip":true},
"encoding":{"x":{"field":"t","type":"temporal"},"y":{"field":"s","type":"quantitative"}}},
{"data":{"values":[{"x":"2022-09-10T11:20:00Z","x2":"2022-09-11T14:16:00Z"}]},"mark":{"type":"rect","color":"white"},
"encoding":{"x":{"field":"x","type":"temporal"},"x2":{"field":"x2"},"y":{"datum":0.151,"type":"quantitative"},"y2":{"datum":0.196}}},
{"data":{"values":[{"x":"2022-09-10T11:52:00Z","txt":"|V|, м/с"},{"x":"2022-09-11T00:12:00Z","txt":"I-B21 на 50м"}]},"mark":{"type":"text","align":"left","baseline":"middle","fontSize":23,"color":"#222"},
"encoding":{"x":{"field":"x","type":"temporal"},"y":{"datum":0.168,"type":"quantitative"},"text":{"field":"txt"}}}
]},
{
"width":1105,"height":190,
"layer":[
{"data":{"name":"gl"},"mark":{"type":"rule","color":"#999","strokeDash":[1,2],"strokeWidth":0.8,"clip":true},
"encoding":{"y":{"field":"v","type":"quantitative","scale":{"domain":[0,0.286],"nice":false,"zero":false},
"axis":{"title":null,"domain":false,"values":[0,0.05,0.1,0.15,0.2,0.25],"format":"~g","labelFontSize":22,"labelPadding":3,"labelOverlap":false,"labelSeparation":-20,"tickColor":"#333","tickSize":5,"grid":true,"gridColor":"#999","gridDash":[1,2],"minExtent":60,"maxExtent":60}}}},
{"data":{"name":"ad"},"mark":{"type":"area","color":"#f37b6c","opacity":0.85,"clip":true},
"encoding":{
"x":{"field":"t","type":"temporal","scale":{"type":"utc","domain":[{"year":2022,"month":9,"date":10,"hours":10,"utc":true},{"year":2022,"month":9,"date":14,"hours":12,"utc":true}],"nice":false},
"axis":{"title":null,"labels":false,"domain":false,"values":[{"year":2022,"month":9,"date":10,"hours":12,"utc":true},{"year":2022,"month":9,"date":11,"hours":0,"utc":true},{"year":2022,"month":9,"date":11,"hours":12,"utc":true},{"year":2022,"month":9,"date":12,"hours":0,"utc":true},{"year":2022,"month":9,"date":12,"hours":12,"utc":true},{"year":2022,"month":9,"date":13,"hours":0,"utc":true},{"year":2022,"month":9,"date":13,"hours":12,"utc":true},{"year":2022,"month":9,"date":14,"hours":0,"utc":true}],"tickColor":"#333","tickSize":-3,"grid":true,"gridColor":"#777","gridDash":[1,2]}},
"y":{"field":"lo","type":"quantitative"},
"y2":{"field":"hi"}}},
{"data":{"name":"ad"},"mark":{"type":"line","strokeWidth":1.5,"clip":true},
"encoding":{"x":{"field":"t","type":"temporal"},"y":{"field":"s","type":"quantitative"},
"color":{"datum":"10с","type":"nominal","scale":{"domain":["10мин","10с"],"range":["#333333","#f07868"]},
"legend":{"title":"Ячейка уср.","orient":"none","legendX":697,"legendY":0,"fillColor":"white","padding":6,"titleFontSize":23,"titleFont":"DejaVu Sans","titleFontWeight":"normal","titleColor":"#222","titlePadding":8,"labelFontSize":21,"labelFont":"DejaVu Sans","labelColor":"#222","symbolType":"stroke","symbolSize":700,"symbolStrokeWidth":2,"labelOffset":26,"rowPadding":6}}}},
{"data":{"name":"ad"},"mark":{"type":"line","strokeWidth":1,"clip":true},
"encoding":{"x":{"field":"t","type":"temporal"},"y":{"field":"s","type":"quantitative"},"color":{"datum":"10мин","type":"nominal"}}},
{"data":{"values":[{"x":"2022-09-10T11:20:00Z","x2":"2022-09-11T14:16:00Z"}]},"mark":{"type":"rect","color":"white"},
"encoding":{"x":{"field":"x","type":"temporal"},"x2":{"field":"x2"},"y":{"datum":0.235,"type":"quantitative"},"y2":{"datum":0.286}}},
{"data":{"values":[{"x":"2022-09-10T11:52:00Z","txt":"|V|, м/с"},{"x":"2022-09-10T23:18:00Z","txt":"ADCP на 45м"}]},"mark":{"type":"text","align":"left","baseline":"middle","fontSize":23,"color":"#222"},
"encoding":{"x":{"field":"x","type":"temporal"},"y":{"datum":0.264,"type":"quantitative"},"text":{"field":"txt"}}},
{"data":{"values":[{"x":"2022-09-10T10:00:00Z","v":0.05,"txt":"0.05"},{"x":"2022-09-10T10:00:00Z","v":0.15,"txt":"0.15"},{"x":"2022-09-10T10:00:00Z","v":0.25,"txt":"0.25"}]},"mark":{"type":"text","align":"right","baseline":"middle","fontSize":22,"dx":-8,"color":"#222"},
"encoding":{"x":{"field":"x","type":"temporal"},"y":{"field":"v","type":"quantitative"},"text":{"field":"txt"}}}
]},
{
"width":1105,"height":133,
"layer":[
{"data":{"name":"ibs"},"transform":[{"filter":{"field":"k","equal":"s"}}],"mark":{"type":"rect","color":"#f1b3bd","opacity":0.6},
"encoding":{
"x":{"field":"a","type":"temporal","scale":{"type":"utc","domain":[{"year":2022,"month":9,"date":10,"hours":10,"utc":true},{"year":2022,"month":9,"date":14,"hours":12,"utc":true}],"nice":false},
"axis":{"title":null,"labels":false,"domain":false,"values":[{"year":2022,"month":9,"date":10,"hours":12,"utc":true},{"year":2022,"month":9,"date":11,"hours":0,"utc":true},{"year":2022,"month":9,"date":11,"hours":12,"utc":true},{"year":2022,"month":9,"date":12,"hours":0,"utc":true},{"year":2022,"month":9,"date":12,"hours":12,"utc":true},{"year":2022,"month":9,"date":13,"hours":0,"utc":true},{"year":2022,"month":9,"date":13,"hours":12,"utc":true},{"year":2022,"month":9,"date":14,"hours":0,"utc":true}],"tickColor":"#333","tickSize":-3,"grid":true,"gridColor":"#777","gridDash":[1,2]}},
"x2":{"field":"b"}}},
{"data":{"name":"ibs"},"transform":[{"filter":{"field":"k","equal":"w"}}],"mark":{"type":"rect","color":"#f1b3bd","opacity":0.3},
"encoding":{"x":{"field":"a","type":"temporal"},"x2":{"field":"b"}}},
{"data":{"name":"ga"},"mark":{"type":"rule","color":"#999","strokeDash":[1,2],"strokeWidth":0.8},
"encoding":{"y":{"field":"v","type":"quantitative","scale":{"domain":[-180,180],"nice":false,"zero":false},
"axis":{"title":null,"domain":false,"values":[-90,0,90],"labelFontSize":22,"labelPadding":3,"labelOverlap":false,"tickColor":"#333","tickSize":5,"grid":true,"gridColor":"#888","gridDash":[1,2],"minExtent":60,"maxExtent":60}}}},
{"data":{"name":"ib"},"mark":{"type":"line","color":"#f5a33a","strokeWidth":7,"opacity":0.75,"clip":true},
"encoding":{"x":{"field":"t","type":"temporal"},"y":{"field":"d","type":"quantitative"},"detail":{"field":"g","type":"nominal"}}},
{"data":{"name":"ib"},"mark":{"type":"line","color":"#333","strokeWidth":1.2,"strokeDash":[5,2],"clip":true},
"encoding":{"x":{"field":"t","type":"temporal"},"y":{"field":"d","type":"quantitative"}}},
{"data":{"values":[{"x":"2022-09-10T11:20:00Z","x2":"2022-09-10T19:00:00Z"},{"x":"2022-09-11T01:54:00Z","x2":"2022-09-11T08:18:00Z"}]},"mark":{"type":"rect","color":"white"},
"encoding":{"x":{"field":"x","type":"temporal"},"x2":{"field":"x2"},"y":{"datum":103,"type":"quantitative"},"y2":{"datum":179}}},
{"data":{"values":[{"x":"2022-09-10T11:52:00Z","txt":"Vdir,°"},{"x":"2022-09-11T02:24:00Z","txt":"I-B21"}]},"mark":{"type":"text","align":"left","baseline":"middle","fontSize":23,"color":"#222"},
"encoding":{"x":{"field":"x","type":"temporal"},"y":{"datum":130,"type":"quantitative"},"text":{"field":"txt"}}}
]},
{
"width":1105,"height":130,
"layer":[
{"data":{"name":"ads"},"transform":[{"filter":{"field":"k","equal":"s"}}],"mark":{"type":"rect","color":"#f1b3bd","opacity":0.6},
"encoding":{
"x":{"field":"a","type":"temporal","scale":{"type":"utc","domain":[{"year":2022,"month":9,"date":10,"hours":10,"utc":true},{"year":2022,"month":9,"date":14,"hours":12,"utc":true}],"nice":false},
"axis":{"offset":9,"title":"День, время 2022-09","titleAnchor":"end","titleFontSize":22,"titleFontWeight":"normal","titlePadding":2,"domain":true,"domainColor":"#333","domainWidth":2,"values":[{"year":2022,"month":9,"date":10,"hours":12,"utc":true},{"year":2022,"month":9,"date":11,"hours":0,"utc":true},{"year":2022,"month":9,"date":11,"hours":12,"utc":true},{"year":2022,"month":9,"date":12,"hours":0,"utc":true},{"year":2022,"month":9,"date":12,"hours":12,"utc":true},{"year":2022,"month":9,"date":13,"hours":0,"utc":true},{"year":2022,"month":9,"date":13,"hours":12,"utc":true},{"year":2022,"month":9,"date":14,"hours":0,"utc":true}],"labelExpr":"utcdate(datum.value) + (utchours(datum.value)===12 ? '¹²˸⁰⁰' : '⁰⁰˸⁰⁰')","labelAlign":"left","labelOffset":-30,"labelBaseline":"top","labelFontSize":24,"labelPadding":19,"labelFlush":false,"labelOverlap":false,"labelBound":false,"tickColor":"#333","tickWidth":1.5,"tickSize":-8,"grid":true,"gridColor":"#777","gridDash":[1,2]}},
"x2":{"field":"b"}}},
{"data":{"name":"ads"},"transform":[{"filter":{"field":"k","equal":"w"}}],"mark":{"type":"rect","color":"#f1b3bd","opacity":0.3},
"encoding":{"x":{"field":"a","type":"temporal"},"x2":{"field":"b"}}},
{"data":{"name":"ga"},"mark":{"type":"rule","color":"#999","strokeDash":[1,2],"strokeWidth":0.8},
"encoding":{"y":{"field":"v","type":"quantitative","scale":{"domain":[-180,180],"nice":false,"zero":false},
"axis":{"title":null,"domain":false,"values":[-90,0,90],"labelFontSize":22,"labelPadding":3,"labelOverlap":false,"tickColor":"#333","tickSize":5,"grid":true,"gridColor":"#888","gridDash":[1,2],"minExtent":60,"maxExtent":60}}}},
{"data":{"name":"ad"},"mark":{"type":"line","color":"#f6c29c","strokeWidth":9,"opacity":0.75,"clip":true},
"encoding":{"x":{"field":"t","type":"temporal"},"y":{"field":"d","type":"quantitative"},"detail":{"field":"g","type":"nominal"}}},
{"data":{"name":"ad"},"mark":{"type":"line","color":"#333","strokeWidth":1.2,"strokeDash":[5,2],"clip":true},
"encoding":{"x":{"field":"t","type":"temporal"},"y":{"field":"d","type":"quantitative"}}},
{"data":{"values":[{"x":"2022-09-10T11:20:00Z","x2":"2022-09-10T19:00:00Z"},{"x":"2022-09-11T01:54:00Z","x2":"2022-09-11T09:00:00Z"}]},"mark":{"type":"rect","color":"white"},
"encoding":{"x":{"field":"x","type":"temporal"},"x2":{"field":"x2"},"y":{"datum":100,"type":"quantitative"},"y2":{"datum":179}}},
{"data":{"values":[{"x":"2022-09-10T11:52:00Z","txt":"Vdir,°"},{"x":"2022-09-11T02:24:00Z","txt":"ADCP"}]},"mark":{"type":"text","align":"left","baseline":"middle","fontSize":23,"color":"#222"},
"encoding":{"x":{"field":"x","type":"temporal"},"y":{"datum":130,"type":"quantitative"},"text":{"field":"txt"}}},
{"data":{"values":[{"x":"2022-09-14T12:00:00Z"}]},"mark":{"type":"text","text":"14¹²˸⁰⁰","align":"right","baseline":"top","fontSize":24,"dy":20,"dx":-3,"color":"#222"},
"encoding":{"x":{"field":"x","type":"temporal"},"y":{"datum":-180,"type":"quantitative"}}}
]}
]
}
